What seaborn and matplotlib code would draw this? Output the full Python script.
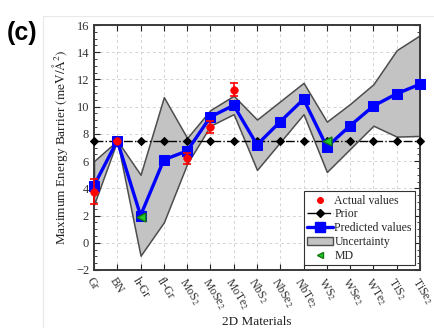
import numpy as np
import pandas as pd
import matplotlib
matplotlib.use("Agg")
import matplotlib.pyplot as plt
import matplotlib.patches as mpatches
from matplotlib.lines import Line2D
from matplotlib.ticker import MultipleLocator
import seaborn as sns

materials = ['Gr', 'BN', 'h-Gr', 'fl-Gr', 'MoS$_2$', 'MoSe$_2$', 'MoTe$_2$', 'NbS$_2$',
             'NbSe$_2$', 'NbTe$_2$', 'WS$_2$', 'WSe$_2$', 'WTe$_2$', 'TiS$_2$', 'TiSe$_2$']
predicted = [4.2, 7.5, 2.0, 6.1, 6.75, 9.25, 10.1, 7.2, 8.9, 10.55, 7.05, 8.6, 10.05, 10.95, 11.65]
upper = [6.0, 7.5, 5.0, 10.7, 7.7, 9.75, 10.8, 9.05, 10.4, 11.75, 8.9, 10.2, 11.65, 14.15, 15.25]
lower = [2.8, 7.5, -0.95, 1.5, 5.8, 8.6, 9.45, 5.35, 7.4, 9.45, 5.2, 6.9, 8.6, 7.8, 7.85]
prior = [7.45] * 15
actual_idx = [0, 1, 4, 5, 6]
actual_val = [3.75, 7.5, 6.2, 8.5, 11.25]
actual_err = [0.9, 0.0, 0.42, 0.45, 0.5]
md_idx = [2, 10]
md_val = [1.9, 7.5]

sns.set_style('ticks')
plt.rcParams['font.family'] = ['Liberation Serif', 'DejaVu Serif']
plt.rcParams['mathtext.fontset'] = 'stix'

fig = plt.figure(figsize=(4.34, 3.28), dpi=100)
ax = fig.add_axes([94/434, 1 - 270/328, 326/434, 245/328])

x = np.arange(len(materials))
df = pd.DataFrame({'x': x, 'pred': predicted, 'prior': prior})

ax.fill_between(x, lower, upper, facecolor='#c3c3c3', edgecolor='#4d4d4d', linewidth=1.1, zorder=2)
sns.lineplot(data=df, x='x', y='prior', ax=ax, color='black', linestyle='-.', linewidth=1.0,
             marker='D', markersize=4, markeredgecolor='black', zorder=3, clip_on=False)
sns.lineplot(data=df, x='x', y='pred', ax=ax, color='#0000ff', linewidth=2.4,
             marker='s', markersize=7, markeredgecolor='#0000ff', zorder=4, clip_on=False)
ax.errorbar(actual_idx, actual_val, yerr=actual_err, fmt='none', ecolor='red',
            elinewidth=1.2, capsize=3, capthick=1.2, zorder=5, clip_on=False)
sns.scatterplot(x=actual_idx, y=actual_val, ax=ax, color='red', s=30, edgecolor='red',
                zorder=6, clip_on=False)
sns.scatterplot(x=md_idx, y=md_val, ax=ax, color='#22cc22', marker='<', s=40,
                edgecolor='#117711', linewidth=1, zorder=6, clip_on=False)

ax.set_xlim(0, len(materials) - 1)
ax.set_ylim(-2, 16)
ax.set_yticks(np.arange(-2, 17, 2))
ax.yaxis.set_minor_locator(MultipleLocator(0.5))
ax.set_xticks(x)
ax.set_xticklabels(materials, rotation=-58, ha='left', va='top', rotation_mode='anchor', fontsize=8.5)
ax.tick_params(axis='both', which='both', direction='in', top=True, right=True, colors='#222222')
ax.tick_params(axis='both', which='major', length=4, labelcolor='#333333')
ax.tick_params(axis='y', which='major', labelsize=9)
ax.tick_params(axis='y', which='minor', length=2)
ax.tick_params(axis='x', which='major', pad=4)
ax.grid(True, which='major', linestyle=(0, (3, 3)), color='#d4d4d4', linewidth=0.7)
ax.set_axisbelow(True)
for s in ax.spines.values():
    s.set_color('#3a3a3a')
    s.set_linewidth(1.4)

ax.set_xlabel('2D Materials', fontsize=9.5, color='#222222', labelpad=3)
ax.set_ylabel('Maximum Energy Barrier $(\\mathrm{meV/Å^2})$', fontsize=9.5, color='#222222', labelpad=4)

handles = [
    Line2D([], [], linestyle='none', marker='o', color='red', markersize=4),
    Line2D([], [], linestyle='-.', color='black', marker='D', markersize=4, linewidth=1),
    Line2D([], [], linestyle='-', color='#0000ff', marker='s', markersize=7, linewidth=2.4),
    mpatches.Patch(facecolor='#c3c3c3', edgecolor='#4d4d4d'),
    Line2D([], [], linestyle='none', marker='<', color='#22cc22', markeredgecolor='#117711', markersize=5),
]
labels = ['Actual values', 'Prior', 'Predicted values', 'Uncertainty', 'MD']
leg = ax.legend(handles, labels, loc='lower right', fontsize=8.5, frameon=True, fancybox=False,
                edgecolor='#333333', framealpha=1, borderaxespad=0.4, handlelength=2.2,
                handletextpad=0.1, labelspacing=0.15, borderpad=0.3)
leg.get_frame().set_linewidth(0.8)
leg.set_zorder(10)

fig.text(7/434, 1 - 40/328, '(c)', fontsize=18, fontweight='bold', family='Liberation Sans',
         color='black')
fig.add_artist(Line2D([43/434, 43/434], [0, 1 - 16/328], transform=fig.transFigure,
                      color='#e8e8e8', linewidth=0.8))
fig.add_artist(Line2D([43/434, 1], [1 - 16/328, 1 - 16/328], transform=fig.transFigure,
                      color='#e8e8e8', linewidth=0.8))

fig.savefig('out.png', dpi=100)
